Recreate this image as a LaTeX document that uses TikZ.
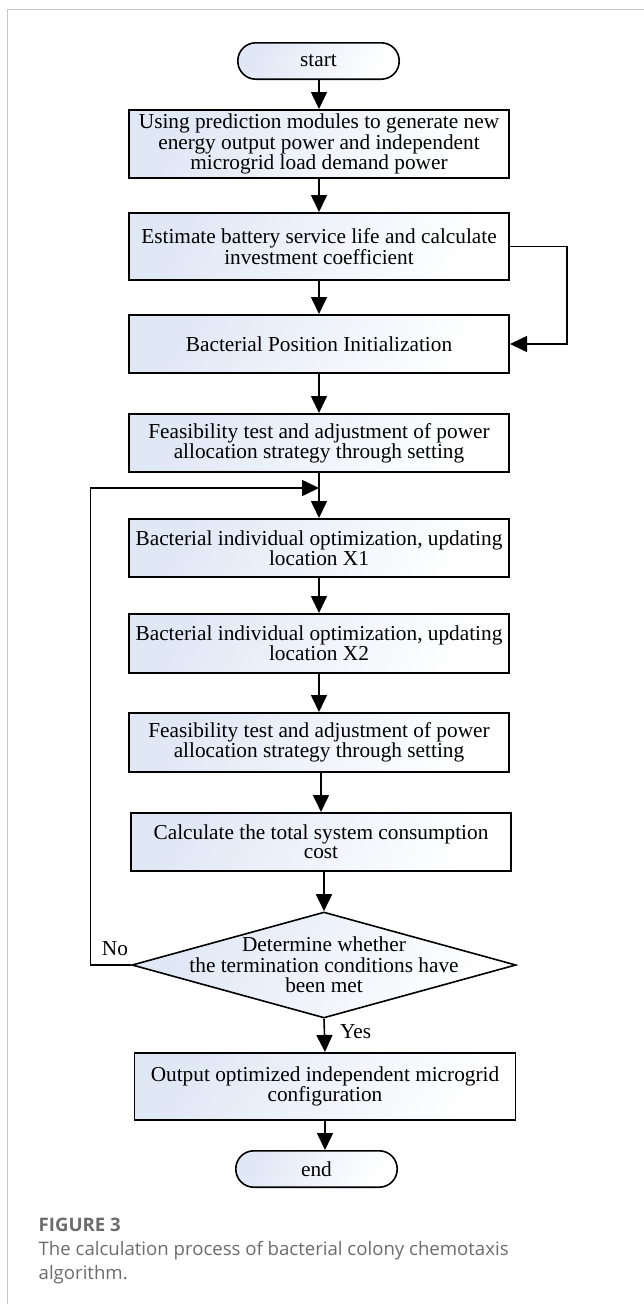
\documentclass[tikz,border=0pt]{standalone}
\usepackage{fontspec}
\setmainfont{Liberation Serif}
\newfontfamily\capfam{Open Sans}
\usetikzlibrary{arrows.meta,shapes.geometric}
\definecolor{fillblue}{RGB}{224,231,245}
\definecolor{framegray}{RGB}{200,200,200}
\definecolor{capgray}{RGB}{108,108,108}
\newcommand\boxfont{\fontsize{21.3}{19}\selectfont}
\newcommand\diafont{\fontsize{21.3}{20.5}\selectfont}
\newcommand\capfont{\capfam\fontsize{18.6}{24}\selectfont}
\begin{document}
\begin{tikzpicture}[x=1pt,y=-1pt,
  shadefill/.style={left color=fillblue, right color=white, shading angle=60},
  procbox/.style={draw, line width=1.6pt, shadefill, inner sep=0pt, minimum width=380.4pt, align=center, font=\boxfont},
  pill/.style={draw, line width=1.6pt, shadefill, rounded corners=18pt, inner sep=0pt, minimum width=161.4pt, minimum height=36.4pt, font=\boxfont},
  arr/.style={line width=1.6pt, -{Triangle[length=17pt,width=16pt]}},
  lbl/.style={font=\boxfont, inner sep=0pt},
  captxt/.style={font=\capfont, text=capgray, inner sep=0pt, anchor=base west}
]
\useasboundingbox (0,0) rectangle (644,1304);
\draw[framegray, line width=1.5pt] (7.4,1304) -- (7.4,9.3) -- (644,9.3);

\node[pill] (start) at (318.5,61) {start};
\node[procbox, minimum height=68.4pt] (b1) at (319,144) {Using prediction modules to generate new\\energy output power and independent\\microgrid load demand power};
\node[procbox, minimum height=67.4pt] (b2) at (319,246.5) {Estimate battery service life and calculate\\investment coefficient};
\node[procbox, minimum height=58.4pt] (b3) at (319,344) {Bacterial Position Initialization};
\node[procbox, minimum height=58.4pt] (b4) at (319,443) {Feasibility test and adjustment of power\\allocation strategy through setting};
\node[procbox, minimum height=58.4pt] (b5) at (319,548) {Bacterial individual optimization, updating\\location X1};
\node[procbox, minimum height=59.4pt] (b6) at (319,643.5) {Bacterial individual optimization, updating\\location X2};
\node[procbox, minimum height=59.4pt] (b7) at (319,742.5) {Feasibility test and adjustment of power\\allocation strategy through setting};
\node[procbox, minimum height=58.4pt] (b8) at (321,842) {Calculate the total system consumption\\cost};
\node[diamond, draw, line width=1.6pt, shadefill, inner sep=0pt, minimum width=384pt, minimum height=106pt] (dia) at (324,965) {};
\node[font=\diafont, align=center, inner sep=0pt] (diatext) at (dia.center) {Determine whether\\the termination conditions have\\been met};
\node[procbox, minimum width=381pt, minimum height=67.4pt] (b9) at (325,1086.5) {Output optimized independent microgrid\\configuration};
\node[pill] (endn) at (316.5,1169) {end};

\coordinate (rx) at (567,0);
\coordinate (lx) at (90.5,0);
\coordinate (mj) at (319,488);

\draw[arr] (start.south -| b1.north) -- (b1.north);
\draw[arr] (b1) -- (b2);
\draw[arr] (b2) -- (b3);
\draw[arr] (b2.east) -- (b2.east -| rx) |- (b3.east);
\draw[arr] (b3) -- (b4);
\draw[arr] (b4) -- (b5);
\draw[arr] (b5) -- (b6);
\draw[arr] (b6) -- (b7);
\draw[arr] (b7.south -| b8.north) -- (b8.north);
\draw[arr] (b8.south -| dia.north) -- (dia.north);
\draw[arr] (dia.south) -- (b9.north);
\draw[arr] (b9.south) -- (b9.south |- endn.north);
\draw[arr] (dia.west) -- (dia.west -| lx) |- (mj);

\node[lbl] (no) at (115,949) {No};
\node[lbl, anchor=west] (yes) at (340,1032) {Yes};

\node[captxt] (fig) at (38.5,1231.5) {\bfseries FIGURE 3};
\node[captxt] (cap1) at (38.5,1255) {The calculation process of bacterial colony chemotaxis};
\node[captxt] (cap2) at (38.5,1279) {algorithm.};
\end{tikzpicture}
\end{document}
